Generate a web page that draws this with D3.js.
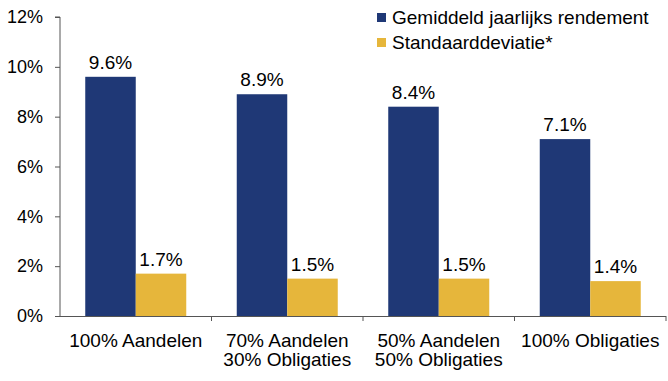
<!DOCTYPE html>
<html><head><meta charset="utf-8">
<script src="https://cdn.jsdelivr.net/npm/d3@7"></script>
<style>
body{margin:0;background:#fff;}
text{font-family:"Liberation Sans",Arial,sans-serif;fill:#000;}
</style></head>
<body><svg id="c" width="668" height="381"></svg>
<script>
const categories = [["100% Aandelen"],["70% Aandelen","30% Obligaties"],["50% Aandelen","50% Obligaties"],["100% Obligaties"]];
const seriesNames = ["Gemiddeld jaarlijks rendement","Standaarddeviatie*"];
const rendement = [9.6, 8.9, 8.4, 7.1];
const stdev = [1.7, 1.5, 1.5, 1.4];
const yTicks = [0,2,4,6,8,10,12];
const colors = ["#1F3876","#E6B63B"];

(function(){
const svg = d3.select("#c");
const pL = 60, pR = 666, pT = 17, pB = 316;
const x0 = d3.scaleBand().domain(d3.range(categories.length)).range([pL,pR]).paddingInner(0).paddingOuter(0);
const x1 = d3.scaleBand().domain([0,1]).range([0,x0.bandwidth()]).paddingOuter(0.5).paddingInner(0);
const y = d3.scaleLinear().domain([0,12]).range([pB,pT]);

const yAxis = d3.axisLeft(y).tickValues(yTicks).tickSize(5).tickPadding(12).tickFormat(d=>d+"%");
const gy = svg.append("g").attr("transform",`translate(${pL},0)`).call(yAxis);
gy.select(".domain").attr("stroke","#555").attr("d",`M-5,${pT}H0V${pB}`);
gy.selectAll(".tick line").attr("stroke","#555");
gy.selectAll(".tick text").style("font-size","18px").attr("fill","#000");

svg.append("line").attr("x1",pL-5).attr("x2",pR).attr("y1",pB+0.5).attr("y2",pB+0.5).attr("stroke","#555");
d3.range(1,categories.length+1).forEach(i=>{
  const xx = i<categories.length ? x0(i) : pR;
  svg.append("line").attr("x1",xx).attr("x2",xx).attr("y1",pB).attr("y2",pB+5).attr("stroke","#555");
});

const data = categories.map((c,i)=>({i, vals:[rendement[i],stdev[i]]}));
const g = svg.selectAll("g.cat").data(data).enter().append("g").attr("class","cat").attr("transform",d=>`translate(${x0(d.i)},0)`);
g.selectAll("rect").data(d=>d.vals.map((v,k)=>({v,k}))).enter().append("rect")
  .attr("x",d=>x1(d.k)).attr("width",x1.bandwidth())
  .attr("y",d=>y(d.v)).attr("height",d=>pB-y(d.v)).attr("fill",d=>colors[d.k]);
g.selectAll("text.val").data(d=>d.vals.map((v,k)=>({v,k}))).enter().append("text")
  .attr("x",d=>x1(d.k)+x1.bandwidth()/2).attr("y",d=>y(d.v)-8)
  .attr("text-anchor","middle").style("font-size","19px").text(d=>d.v.toFixed(1)+"%");

categories.forEach((lines,i)=>{
  const cx = x0(i)+x0.bandwidth()/2;
  const t = svg.append("text").attr("x",cx).attr("y",346.5).attr("text-anchor","middle").style("font-size","19px");
  lines.forEach((l,j)=>t.append("tspan").attr("x",cx).attr("dy",j?19:0).text(l));
});

seriesNames.forEach((n,k)=>{
  svg.append("rect").attr("x",377).attr("y",13+k*25).attr("width",9).attr("height",9).attr("fill",colors[k]);
  svg.append("text").attr("x",392).attr("y",24+k*25).style("font-size","19px").text(n);
});
})();
</script></body></html>
